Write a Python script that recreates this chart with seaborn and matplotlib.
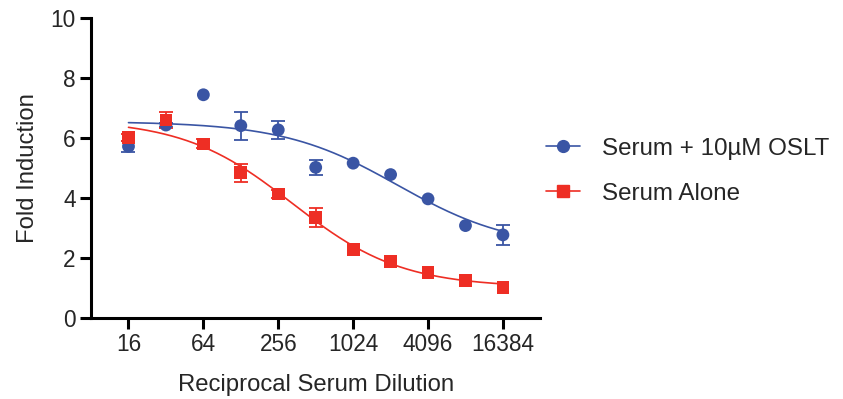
import numpy as np
import pandas as pd
import matplotlib
matplotlib.use("Agg")
import matplotlib.pyplot as plt
import seaborn as sns
from matplotlib.lines import Line2D

# data
dilution = [16, 32, 64, 128, 256, 512, 1024, 2048, 4096, 8192, 16384]
oslt_mean = [5.72, 6.43, 7.44, 6.41, 6.27, 5.02, 5.16, 4.78, 3.97, 3.08, 2.77]
oslt_err = [0.18, 0.08, 0.0, 0.47, 0.30, 0.25, 0.0, 0.0, 0.0, 0.0, 0.34]
alone_mean = [6.02, 6.60, 5.80, 4.84, 4.13, 3.36, 2.29, 1.89, 1.52, 1.26, 1.03]
alone_err = [0.12, 0.28, 0.15, 0.30, 0.12, 0.32, 0.0, 0.0, 0.0, 0.0, 0.0]

# 4PL fit parameters (top, bottom, EC50, hill) estimated from the drawn curves
oslt_fit = (6.55, 2.3, 2340, 0.94)
alone_fit = (6.62, 1.02, 332, 0.99)

xticks = [16, 64, 256, 1024, 4096, 16384]
labels = ["Serum + 10\u00b5M OSLT", "Serum Alone"]
blue = "#3A55A4"
red = "#EE2E24"

sns.set_style("white")
plt.rcParams["font.family"] = ["Liberation Sans", "DejaVu Sans"]

fig = plt.figure(figsize=(8.43, 3.99), dpi=100)
ax = fig.add_axes([0.108, 0.203, 0.533, 0.752])

xs = np.logspace(np.log2(16), np.log2(16384), 200, base=2)


def four_pl(x, p):
    top, bottom, ec50, hill = p
    return bottom + (top - bottom) / (1 + (x / ec50) ** hill)


curves = pd.DataFrame({
    "x": np.concatenate([xs, xs]),
    "y": np.concatenate([four_pl(xs, oslt_fit), four_pl(xs, alone_fit)]),
    "group": [labels[0]] * len(xs) + [labels[1]] * len(xs),
})
pts = pd.DataFrame({
    "x": dilution * 2,
    "y": oslt_mean + alone_mean,
    "err": oslt_err + alone_err,
    "group": [labels[0]] * len(dilution) + [labels[1]] * len(dilution),
})

sns.lineplot(data=curves, x="x", y="y", hue="group",
             palette=[blue, red], linewidth=1.2, legend=False, ax=ax)

# error bars only where there is one
for name, col in zip(labels, [blue, red]):
    sub = pts[(pts["group"] == name) & (pts["err"] > 0)]
    ax.errorbar(sub["x"], sub["y"], yerr=sub["err"], fmt="none", ecolor=col,
                elinewidth=1.3, capsize=5, capthick=1.3)

sns.scatterplot(data=pts, x="x", y="y", hue="group", style="group",
                markers={labels[0]: "o", labels[1]: "s"},
                palette=[blue, red], s=85, edgecolor="none",
                legend=False, ax=ax, zorder=3)

ax.set_xscale("log", base=2)
ax.set_xlim(8, 32768)
ax.set_ylim(0, 10)
ax.set_xticks(xticks)
ax.set_xticklabels([str(t) for t in xticks])
ax.xaxis.set_minor_locator(matplotlib.ticker.NullLocator())
ax.set_yticks([0, 2, 4, 6, 8, 10])

for s in ["top", "right"]:
    ax.spines[s].set_visible(False)
for s in ["left", "bottom"]:
    ax.spines[s].set_linewidth(2.2)
    ax.spines[s].set_color("black")
ax.tick_params(axis="both", which="major", direction="out", length=8,
               width=2.2, color="black", labelsize=16.3, pad=3,
               bottom=True, left=True)

ax.set_xlabel("Reciprocal Serum Dilution", fontsize=17.2, labelpad=13)
ax.set_ylabel("Fold Induction", fontsize=17.2, labelpad=8)

handles = [
    Line2D([0], [0], color=blue, lw=1.2, marker="o", markersize=8.5),
    Line2D([0], [0], color=red, lw=1.2, marker="s", markersize=8.5),
]
fig.legend(handles, labels, loc="center left", bbox_to_anchor=(0.622, 0.571),
           frameon=False, fontsize=17.4, handlelength=1.4, handletextpad=0.9,
           labelspacing=0.95)

fig.savefig("out.png", dpi=100)
